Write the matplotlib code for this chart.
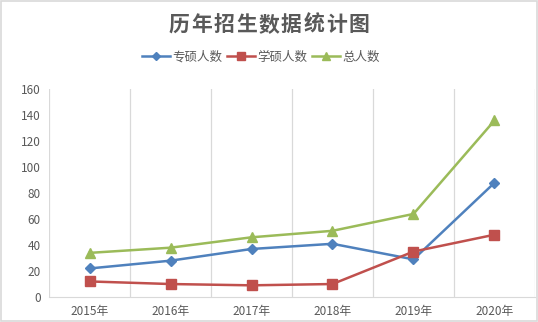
import numpy as np
import matplotlib.pyplot as plt

plt.rcParams['font.family'] = ['Noto Sans CJK SC', 'DejaVu Sans']

years = ['2015年', '2016年', '2017年', '2018年', '2019年', '2020年']
zhuanshuo = [22, 28, 37, 41, 29, 88]
xueshuo = [12, 10, 9, 10, 35, 48]
total = [34, 38, 46, 51, 64, 136]

text_color = '#595959'
grid_color = '#D9D9D9'

fig = plt.figure(figsize=(5.38, 3.22), dpi=100)
ax = fig.add_axes([0.0911, 0.0776, 0.9033, 0.645])

x = np.arange(len(years))
series = [
    (zhuanshuo, '专硕人数', '#4F81BD', 'D', 5),
    (xueshuo, '学硕人数', '#C0504D', 's', 6.5),
    (total, '总人数', '#9BBB59', '^', 7),
]
for vals, name, color, marker, ms in series:
    ax.plot(x, vals, color=color, linewidth=1.8, marker=marker,
            markersize=ms, label=name, zorder=3)

ax.set_xlim(-0.5, len(years) - 0.5)
ax.set_ylim(0, 160)
ax.set_yticks(range(0, 161, 20))
ax.set_xticks(x)
ax.set_xticklabels(years)

# vertical lines between categories
for b in np.arange(-0.5, len(years) - 0.4, 1):
    ax.axvline(b, color=grid_color, linewidth=0.9, zorder=1)

for side in ['top', 'right', 'left']:
    ax.spines[side].set_visible(False)
ax.spines['bottom'].set_color(grid_color)
ax.tick_params(axis='both', length=0, colors=text_color)
ax.tick_params(axis='x', pad=6, labelsize=8.5)
ax.tick_params(axis='y', pad=6, labelsize=8.5)

title = '历年招生数据统计图'
pitch = 22.5 / 538
x0 = 0.5 - pitch * (len(title) - 1) / 2
for i, ch in enumerate(title):
    fig.text(x0 + i * pitch, 0.925, ch, ha='center', va='center',
             fontsize=15, fontweight='bold', color=text_color)

leg = fig.legend(loc='center', bbox_to_anchor=(0.485, 0.822), ncol=3,
                 frameon=False, fontsize=9, handlelength=2.2,
                 columnspacing=0.4, handletextpad=0.2, markerscale=0.85)
for t in leg.get_texts():
    t.set_color(text_color)

# outer border
fig.patches.append(plt.Rectangle((0.002, 0.003), 0.996, 0.994,
                                 transform=fig.transFigure, fill=False,
                                 edgecolor='#D9D9D9', linewidth=1.2))

fig.savefig('out.png', dpi=100)
